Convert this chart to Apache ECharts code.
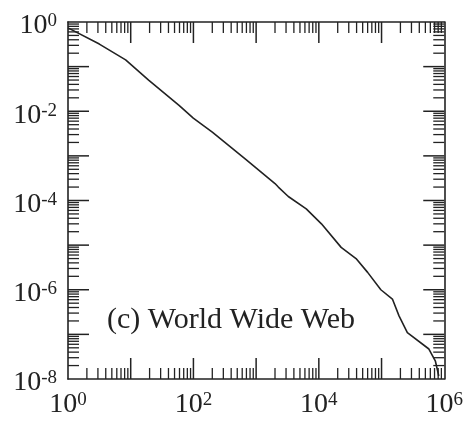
<!DOCTYPE html>
<html>
<head>
<meta charset="utf-8">
<script src="https://cdn.jsdelivr.net/npm/echarts@6/dist/echarts.min.js"></script>
<style>
  html, body { margin: 0; padding: 0; background: #fff; }
  #chart { width: 466px; height: 427px; }
</style>
</head>
<body>
<div id="chart"></div>
<script>
// Degree distribution, World Wide Web (log-log)
const xValues = [1, 3.16, 8.3, 19.3, 59, 99.5, 200, 676, 2000, 2260, 3260, 6300, 11000, 22700, 39200, 60000, 97500, 149000, 190000, 258000, 569000, 723000, 818000];
const yValues = [0.74, 0.32, 0.142, 0.050, 0.0136, 0.0070, 0.0034, 0.00085, 2.4e-4, 2.0e-4, 1.23e-4, 6.5e-5, 3.0e-5, 8.9e-6, 5.0e-6, 2.45e-6, 1.0e-6, 6.2e-7, 2.6e-7, 1.1e-7, 4.7e-8, 2.5e-8, 1.17e-8];

const xMin = 1, xMax = 1e6;
const yMin = 1e-8, yMax = 1;
const annotation = '(c) World Wide Web';

// major tick values (every decade) and minor ones (2..9 x 10^k)
const xMajorTicks = [10, 100, 1000, 10000, 100000];
const yMajorTicks = [1e-7, 1e-6, 1e-5, 1e-4, 1e-3, 1e-2, 1e-1];
const xMinorTicks = [];
for (let k = 0; k < 6; k++) for (let m = 2; m <= 9; m++) xMinorTicks.push(m * Math.pow(10, k));
const yMinorTicks = [];
for (let k = -8; k < 0; k++) for (let m = 2; m <= 9; m++) yMinorTicks.push(m * Math.pow(10, k));

const INK = '#222';
const FONT = '"Liberation Serif", "Times New Roman", serif';
const MAJOR = 21, MINOR = 11;

function expLabel(v) {
  const e = Math.round(Math.log10(v));
  if (e % 2 !== 0) return '';
  return '{b|10}{s|' + e + '}';
}
const richLabel = {
  b: { fontSize: 28, fontFamily: FONT, color: INK, lineHeight: 28, padding: [10, 0, 0, 0], verticalAlign: 'bottom' },
  s: { fontSize: 19, fontFamily: FONT, color: INK, lineHeight: 19, verticalAlign: 'top' }
};

const chart = echarts.init(document.getElementById('chart'), null, { renderer: 'canvas' });

const baseAxisLine = { show: true, onZero: false, lineStyle: { color: INK, width: 1.6 } };
const noTick = { show: false };

function xTickSeries(values, len, w) {
  return {
    type: 'custom', xAxisIndex: 0, yAxisIndex: 0, clip: false, silent: true, z: 6,
    data: values.map(v => [v, yMin]),
    renderItem: function (params, api) {
      const v = api.value(0);
      const pb = api.coord([v, yMin]);
      const pt = api.coord([v, yMax]);
      return { type: 'group', children: [
        { type: 'line', shape: { x1: pb[0], y1: pb[1], x2: pb[0], y2: pb[1] - len }, style: { stroke: INK, lineWidth: w } },
        { type: 'line', shape: { x1: pt[0], y1: pt[1], x2: pt[0], y2: pt[1] + len }, style: { stroke: INK, lineWidth: w } }
      ] };
    }
  };
}
function yTickSeries(values, len, w) {
  return {
    type: 'custom', xAxisIndex: 0, yAxisIndex: 0, clip: false, silent: true, z: 6,
    data: values.map(v => [xMin, v]),
    renderItem: function (params, api) {
      const v = api.value(1);
      const pl = api.coord([xMin, v]);
      const pr = api.coord([xMax, v]);
      return { type: 'group', children: [
        { type: 'line', shape: { x1: pl[0], y1: pl[1], x2: pl[0] + len, y2: pl[1] }, style: { stroke: INK, lineWidth: w } },
        { type: 'line', shape: { x1: pr[0], y1: pr[1], x2: pr[0] - len, y2: pr[1] }, style: { stroke: INK, lineWidth: w } }
      ] };
    }
  };
}

chart.setOption({
  animation: false,
  backgroundColor: '#fff',
  grid: { left: 68, right: 19, top: 22, bottom: 48, containLabel: false },
  xAxis: [
    {
      type: 'log', logBase: 10, min: xMin, max: xMax, position: 'bottom',
      axisLine: baseAxisLine, axisTick: noTick, splitLine: { show: false },
      axisLabel: { show: true, margin: 12, formatter: expLabel, rich: richLabel, interval: 0, hideOverlap: false, showMinLabel: true, showMaxLabel: true }
    },
    {
      type: 'log', logBase: 10, min: xMin, max: xMax, position: 'top',
      axisLine: baseAxisLine, axisTick: noTick, splitLine: { show: false },
      axisLabel: { show: false }
    }
  ],
  yAxis: [
    {
      type: 'log', logBase: 10, min: yMin, max: yMax, position: 'left',
      axisLine: baseAxisLine, axisTick: noTick, splitLine: { show: false },
      axisLabel: { show: true, margin: 11, padding: [8, 0, 0, 0], formatter: expLabel, rich: richLabel, interval: 0, hideOverlap: false, showMinLabel: true, showMaxLabel: true }
    },
    {
      type: 'log', logBase: 10, min: yMin, max: yMax, position: 'right',
      axisLine: baseAxisLine, axisTick: noTick, splitLine: { show: false },
      axisLabel: { show: false }
    }
  ],
  series: [
    {
      type: 'line',
      xAxisIndex: 0, yAxisIndex: 0,
      data: xValues.map((x, i) => [x, yValues[i]]),
      showSymbol: false, symbol: 'none',
      lineStyle: { color: INK, width: 1.6 },
      smooth: false, z: 5
    },
    xTickSeries(xMajorTicks, MAJOR, 1.5),
    xTickSeries(xMinorTicks, MINOR, 1.3),
    yTickSeries(yMajorTicks, MAJOR, 1.5),
    yTickSeries(yMinorTicks, MINOR, 1.3)
  ],
  graphic: [
    {
      type: 'text', left: 107, top: 305, z: 10,
      style: { text: annotation, fill: INK, font: '30px ' + FONT }
    }
  ]
});
</script>
</body>
</html>
